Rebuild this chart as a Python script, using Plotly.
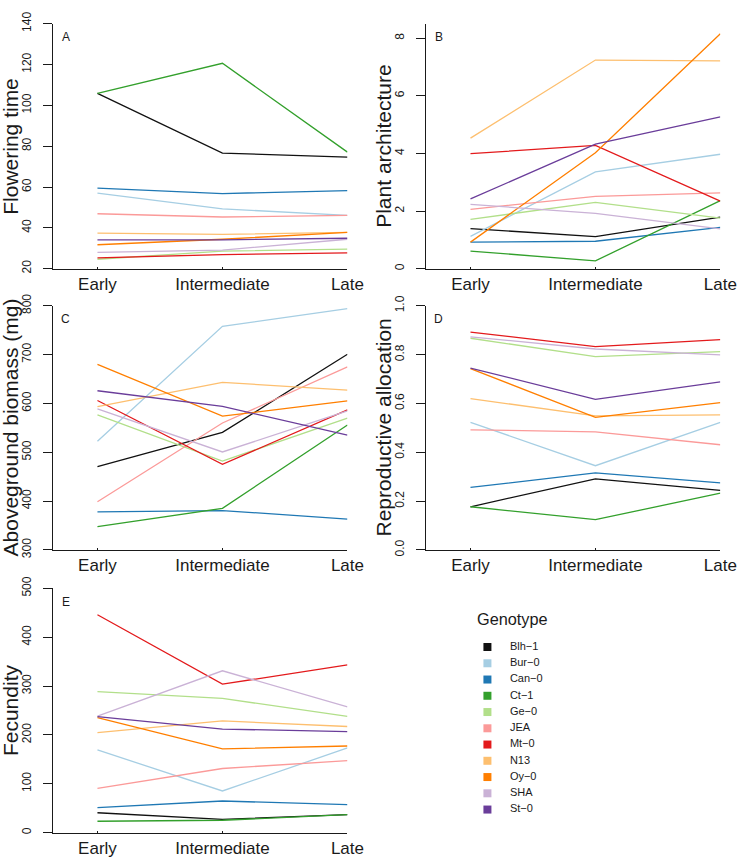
import plotly.graph_objects as go

stages = ["Early", "Intermediate", "Late"]
genotypes = ["Blh\u22121", "Bur\u22120", "Can\u22120", "Ct\u22121", "Ge\u22120", "JEA",
             "Mt\u22120", "N13", "Oy\u22120", "SHA", "St\u22120"]
colors = ["#111111", "#A6CEE3", "#1F78B4", "#33A02C", "#B2DF8A", "#FB9A99",
          "#E31A1C", "#FDBF6F", "#FF7F00", "#CAB2D6", "#6A3D9A"]

# A: Flowering time
flowering_time = {
    "Blh\u22121": [105.9, 76.6, 74.6],
    "Bur\u22120": [57.0, 49.3, 46.1],
    "Can\u22120": [59.4, 56.8, 58.2],
    "Ct\u22121": [105.9, 120.6, 77.1],
    "Ge\u22120": [24.6, 28.6, 29.6],
    "JEA": [46.9, 45.3, 46.1],
    "Mt\u22120": [25.3, 26.9, 27.7],
    "N13": [37.4, 36.8, 37.8],
    "Oy\u22120": [31.7, 34.4, 37.8],
    "SHA": [28.0, 29.1, 34.4],
    "St\u22120": [34.1, 34.1, 34.9],
}
# B: Plant architecture
plant_architecture = {
    "Blh\u22121": [1.39, 1.11, 1.79],
    "Bur\u22120": [1.12, 3.36, 3.97],
    "Can\u22120": [0.92, 0.95, 1.43],
    "Ct\u22121": [0.61, 0.27, 2.36],
    "Ge\u22120": [1.71, 2.30, 1.75],
    "JEA": [2.06, 2.51, 2.63],
    "Mt\u22120": [3.99, 4.28, 2.34],
    "N13": [4.53, 7.24, 7.21],
    "Oy\u22120": [0.92, 4.02, 8.15],
    "SHA": [2.23, 1.92, 1.38],
    "St\u22120": [2.42, 4.32, 5.27],
}
# C: Aboveground biomass (mg)
biomass = {
    "Blh\u22121": [470.7, 540.7, 700.7],
    "Bur\u22120": [522.7, 758.0, 794.0],
    "Can\u22120": [378.0, 380.7, 363.3],
    "Ct\u22121": [348.0, 385.3, 556.0],
    "Ge\u22120": [576.7, 482.0, 570.0],
    "JEA": [398.7, 560.0, 674.7],
    "Mt\u22120": [606.0, 475.3, 586.7],
    "N13": [593.3, 643.3, 627.3],
    "Oy\u22120": [680.0, 574.0, 605.3],
    "SHA": [588.7, 500.7, 584.7],
    "St\u22120": [626.0, 594.0, 535.3],
}
# D: Reproductive allocation
repro_alloc = {
    "Blh\u22121": [0.177, 0.291, 0.244],
    "Bur\u22120": [0.523, 0.345, 0.523],
    "Can\u22120": [0.256, 0.316, 0.275],
    "Ct\u22121": [0.177, 0.124, 0.233],
    "Ge\u22120": [0.867, 0.792, 0.812],
    "JEA": [0.492, 0.484, 0.431],
    "Mt\u22120": [0.892, 0.833, 0.861],
    "N13": [0.620, 0.549, 0.553],
    "Oy\u22120": [0.743, 0.543, 0.603],
    "SHA": [0.873, 0.823, 0.799],
    "St\u22120": [0.745, 0.617, 0.688],
}
# E: Fecundity
fecundity = {
    "Blh\u22121": [40.7, 27.3, 36.7],
    "Bur\u22120": [169.3, 85.3, 173.3],
    "Can\u22120": [51.3, 64.7, 57.3],
    "Ct\u22121": [23.3, 25.3, 36.7],
    "Ge\u22120": [288.7, 274.7, 238.0],
    "JEA": [90.7, 131.3, 147.3],
    "Mt\u22120": [446.0, 304.0, 343.3],
    "N13": [204.7, 228.7, 217.3],
    "Oy\u22120": [235.3, 171.3, 177.3],
    "SHA": [238.7, 331.3, 257.3],
    "St\u22120": [237.3, 212.0, 206.7],
}

panels = [
    ("A", "Flowering time", flowering_time, [20, 140], 20, None),
    ("B", "Plant architecture", plant_architecture, [0, 8.5], 2, None),
    ("C", "Aboveground biomass (mg)", biomass, [300, 800], 100, None),
    ("D", "Reproductive allocation", repro_alloc, [0, 1.0], 0.2, ".1f"),
    ("E", "Fecundity", fecundity, [0, 500], 100, None),
]

W, H = 752, 867
# pixel boxes: (left, right, top, bottom)
boxes = [
    (54.3, 355.5, 12.0, 262.7),
    (436.0, 737.0, 12.0, 262.7),
    (54.3, 355.5, 300.7, 550.7),
    (436.0, 737.0, 300.7, 550.7),
    (54.3, 355.5, 590.0, 840.0),
]

FONT = "Liberation Sans, Arial, Helvetica, sans-serif"
INK = "#1a1a1a"
fig = go.Figure()
layout = dict(
    width=W, height=H,
    margin=dict(l=0, r=0, t=0, b=0),
    paper_bgcolor="white", plot_bgcolor="white",
    showlegend=False,
    font=dict(family=FONT, color=INK),
    annotations=[],
)

for i, (letter, title, data, yr, dt, fmt) in enumerate(panels):
    n = i + 1
    xa = "x" if n == 1 else f"x{n}"
    ya = "y" if n == 1 else f"y{n}"
    for g, c in zip(genotypes, colors):
        fig.add_trace(go.Scatter(
            x=stages, y=data[g], mode="lines", name=g,
            line=dict(color=c, width=1.3), xaxis=xa, yaxis=ya,
            showlegend=False, cliponaxis=False,
        ))
    l, r, t, b = boxes[i]
    xkey = "xaxis" if n == 1 else f"xaxis{n}"
    ykey = "yaxis" if n == 1 else f"yaxis{n}"
    layout[xkey] = dict(
        domain=[l / W, r / W], anchor=ya,
        type="category", categoryorder="array", categoryarray=stages,
        range=[-0.355, 2.0],
        showline=True, linecolor=INK, linewidth=1.2,
        ticks="inside", ticklen=2, tickcolor=INK, tickwidth=1.2,
        tickfont=dict(size=17, family=FONT, color=INK),
        ticklabelstandoff=0,
        showgrid=False, zeroline=False,
    )
    yd = dict(
        domain=[1 - b / H, 1 - t / H], anchor=xa,
        range=yr, tick0=yr[0], dtick=dt,
        showline=True, linecolor=INK, linewidth=1.2,
        ticks="outside", ticklen=9, tickcolor=INK, tickwidth=1.2,
        tickangle=-90,
        tickfont=dict(size=12, family=FONT, color=INK),
        ticklabelstandoff=7,
        showgrid=False, zeroline=False,
    )
    if fmt:
        yd["tickformat"] = fmt
    layout[ykey] = yd
    layout["annotations"].append(dict(
        text=title, x=(l - 43.5) / W, y=1 - ((t + b) / 2) / H, xref="paper", yref="paper",
        xanchor="center", yanchor="middle", textangle=-90, showarrow=False,
        font=dict(size=21, family=FONT, color=INK),
    ))
    layout["annotations"].append(dict(
        text=letter, x=(l + 13) / W, y=1 - (t + 14) / H, xref="paper", yref="paper",
        xanchor="center", yanchor="middle", showarrow=False,
        font=dict(size=12, family=FONT, color=INK),
    ))

# Legend drawn on a hidden axis pair
leg_top, leg_bottom = 641.7, 824.7
fig.add_trace(go.Scatter(
    x=[0] * len(genotypes), y=genotypes, mode="markers",
    marker=dict(symbol="square", size=8, color=colors, line=dict(width=0)),
    xaxis="x6", yaxis="y6", showlegend=False, cliponaxis=False, hoverinfo="skip",
))
fig.add_trace(go.Scatter(
    x=[1] * len(genotypes), y=genotypes, mode="text", text=genotypes,
    textposition="middle right",
    textfont=dict(size=11, family=FONT, color=INK),
    xaxis="x6", yaxis="y6", showlegend=False, cliponaxis=False, hoverinfo="skip",
))
layout["xaxis6"] = dict(domain=[498.7 / W, 521.7 / W], range=[0, 1], visible=False, anchor="y6")
layout["yaxis6"] = dict(domain=[1 - leg_bottom / H, 1 - leg_top / H], type="category",
                        categoryorder="array", categoryarray=genotypes,
                        range=[len(genotypes) - 0.5, -0.5], visible=False, anchor="x6")
layout["annotations"].append(dict(
    text="Genotype", x=524 / W, y=1 - 621 / H, xref="paper", yref="paper",
    xanchor="center", yanchor="middle", showarrow=False,
    font=dict(size=16.3, family=FONT, color=INK),
))

fig.update_layout(**layout)
fig.write_html(
    "out.html",
    config={"displayModeBar": False},
    post_script="document.body.style.margin='0';document.body.style.overflow='hidden';",
)
